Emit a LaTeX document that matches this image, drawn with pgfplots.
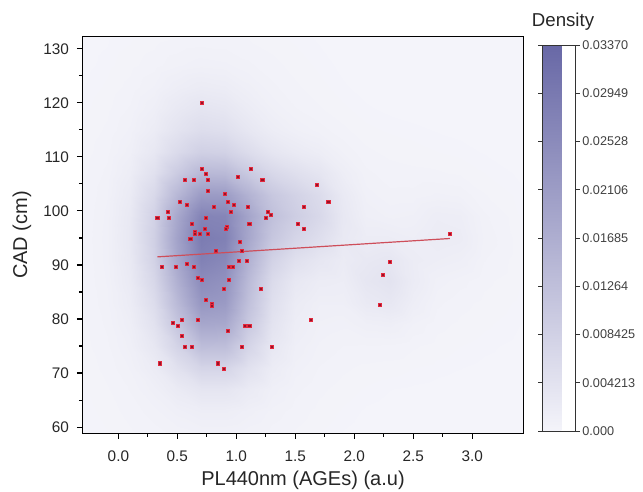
\documentclass[border=0pt]{standalone}
\usepackage{pgfplots}
\pgfplotsset{compat=1.18}
\usepackage{fontspec}
\setmainfont{Liberation Sans}
\definecolor{ptred}{RGB}{228,40,60}
\definecolor{ptdark}{RGB}{150,20,40}
\definecolor{fitred}{RGB}{206,78,90}
\begin{document}
\begin{tikzpicture}
\begin{axis}[
  name=main, at={(0,0)}, anchor=south west,
  width=330pt, height=297pt, scale only axis,
  xmin=-0.3, xmax=3.43, ymin=58.9, ymax=132.2,
  xtick={0,0.5,1,1.5,2,2.5,3}, minor x tick num=1,
  ytick={60,70,80,90,100,110,120,130}, minor y tick num=1,
  xtick pos=left, ytick pos=left, tick align=outside,
  major tick length=4.5pt, minor tick length=3pt,
  tick style={line width=0.8pt, black},
  axis line style={line width=1.1pt},
  /pgf/number format/assume math mode=true,
  ticklabel style={font=\fontsize{11.5}{13}\selectfont, text=black!85},
  xticklabel style={/pgf/number format/fixed, /pgf/number format/fixed zerofill, /pgf/number format/precision=1, yshift=-5.5pt},
  yticklabel style={xshift=-2.5pt},
  xlabel={PL440nm (AGEs) (a.u)}, ylabel={CAD (cm)},
  label style={font=\fontsize{15}{17}\selectfont, text=black!85},
  xlabel style={at={(axis description cs:0.5,-0.119)}, anchor=center},
  ylabel style={at={(axis description cs:-0.139,0.5)}, anchor=center, rotate=0},
  colormap={dens}{rgb255(0cm)=(244,244,250) rgb255(1cm)=(104,104,166)},
  point meta min=0, point meta max=33.7,
  colorbar,
  colorbar style={
    at={(parent axis.south east)}, anchor=south west, xshift=6pt, yshift=1.5pt,
    width=25pt, height=289.5pt,
    ytick={0,4.213,8.425,12.64,16.85,21.06,25.28,29.49,33.7},
    yticklabels={0.000,0.004213,0.008425,0.01264,0.01685,0.02106,0.02528,0.02949,0.03370},
    yticklabel style={font=\fontsize{9.5}{11}\selectfont, text=black!75, xshift=-1.5pt},
    tick align=outside, major tick length=3pt, tick style={line width=0.5pt, black!80},
    axis line style={line width=0.6pt, black!80},
    title={Density},
    title style={font=\fontsize{14}{16}\selectfont, text=black!85, at={(0.5,1)}, anchor=base, yshift=8pt, xshift=3pt},
  },
]
\addplot[surf, shader=interp, mesh/cols=19, point meta={1.12*\thisrow{z}}]
table[x=x, y=y, row sep=\\] {
x y z\\
-0.3 58.9 .09\\ -0.1 58.9 .17\\ 0.1 58.9 .29\\ 0.3 58.9 .44\\ 0.5 58.9 .61\\ 0.7 58.9 .75\\ 0.9 58.9 .75\\ 1.1 58.9 .61\\ 1.3 58.9 .44\\ 1.5 58.9 .30\\ 1.7 58.9 .18\\ 1.9 58.9 .10\\ 2.1 58.9 .05\\ 2.3 58.9 .03\\ 2.5 58.9 .02\\ 2.7 58.9 .01\\ 2.9 58.9 .01\\ 3.1 58.9 .01\\ 3.43 58.9 0\\
-0.3 63 .12\\ -0.1 63 .23\\ 0.1 63 .40\\ 0.3 63 .67\\ 0.5 63 1.07\\ 0.7 63 1.46\\ 0.9 63 1.46\\ 1.1 63 1.08\\ 1.3 63 .68\\ 1.5 63 .43\\ 1.7 63 .26\\ 1.9 63 .16\\ 2.1 63 .09\\ 2.3 63 .06\\ 2.5 63 .04\\ 2.7 63 .03\\ 2.9 63 .02\\ 3.1 63 .02\\ 3.43 63 .01\\
-0.3 67 .16\\ -0.1 67 .30\\ 0.1 67 .56\\ 0.3 67 1.08\\ 0.5 67 2.11\\ 0.7 67 3.22\\ 0.9 67 3.21\\ 1.1 67 2.11\\ 1.3 67 1.10\\ 1.5 67 .61\\ 1.7 67 .37\\ 1.9 67 .24\\ 2.1 67 .16\\ 2.3 67 .11\\ 2.5 67 .09\\ 2.7 67 .07\\ 2.9 67 .05\\ 3.1 67 .04\\ 3.43 67 .02\\
-0.3 71 .20\\ -0.1 71 .39\\ 0.1 71 .78\\ 0.3 71 1.79\\ 0.5 71 4.11\\ 0.7 71 6.73\\ 0.9 71 6.70\\ 1.1 71 4.06\\ 1.3 71 1.80\\ 1.5 71 .87\\ 1.7 71 .52\\ 1.9 71 .36\\ 2.1 71 .27\\ 2.3 71 .23\\ 2.5 71 .18\\ 2.7 71 .14\\ 2.9 71 .11\\ 3.1 71 .08\\ 3.43 71 .04\\
-0.3 75 .24\\ -0.1 75 .49\\ 0.1 75 1.06\\ 0.3 75 2.81\\ 0.5 75 7.01\\ 0.7 75 11.77\\ 0.9 75 11.63\\ 1.1 75 6.78\\ 1.3 75 2.75\\ 1.5 75 1.18\\ 1.7 75 .71\\ 1.9 75 .53\\ 2.1 75 .52\\ 2.3 75 .50\\ 2.5 75 .35\\ 2.7 75 .24\\ 2.9 75 .18\\ 3.1 75 .13\\ 3.43 75 .07\\
-0.3 79 .28\\ -0.1 79 .59\\ 0.1 79 1.39\\ 0.3 79 3.97\\ 0.5 79 10.02\\ 0.7 79 16.65\\ 0.9 79 16.27\\ 1.1 79 9.37\\ 1.3 79 3.69\\ 1.5 79 1.53\\ 1.7 79 .93\\ 1.9 79 .81\\ 2.1 79 1.15\\ 2.3 79 1.29\\ 2.5 79 .74\\ 2.7 79 .39\\ 2.9 79 .28\\ 3.1 79 .20\\ 3.43 79 .10\\
-0.3 83 .31\\ -0.1 83 .69\\ 0.1 83 1.76\\ 0.3 83 5.12\\ 0.5 83 12.49\\ 0.7 83 20.04\\ 0.9 83 19.25\\ 1.1 83 11.11\\ 1.3 83 4.47\\ 1.5 83 1.92\\ 1.7 83 1.21\\ 1.9 83 1.21\\ 2.1 83 2.27\\ 2.3 83 2.75\\ 2.5 83 1.40\\ 2.7 83 .59\\ 2.9 83 .39\\ 3.1 83 .27\\ 3.43 83 .14\\
-0.3 87 .33\\ -0.1 87 .78\\ 0.1 87 2.14\\ 0.3 87 6.28\\ 0.5 87 14.61\\ 0.7 87 22.40\\ 0.9 87 21.13\\ 1.1 87 12.48\\ 1.3 87 5.45\\ 1.5 87 2.65\\ 1.7 87 1.75\\ 1.9 87 1.61\\ 2.1 87 3.02\\ 2.3 87 3.68\\ 2.5 87 1.88\\ 2.7 87 .87\\ 2.9 87 .63\\ 3.1 87 .37\\ 3.43 87 .17\\
-0.3 91 .34\\ -0.1 91 .85\\ 0.1 91 2.47\\ 0.3 91 7.34\\ 0.5 91 16.57\\ 0.7 91 24.63\\ 0.9 91 23.19\\ 1.1 91 14.47\\ 1.3 91 7.27\\ 1.5 91 4.26\\ 1.7 91 2.93\\ 1.9 91 1.95\\ 2.1 91 2.56\\ 2.3 91 2.96\\ 2.5 91 1.78\\ 2.7 91 1.41\\ 2.9 91 1.19\\ 3.1 91 .55\\ 3.43 91 .18\\
-0.3 95 .34\\ -0.1 95 .87\\ 0.1 95 2.62\\ 0.3 95 7.86\\ 0.5 95 17.55\\ 0.7 95 25.87\\ 0.9 95 24.81\\ 1.1 95 16.74\\ 1.3 95 9.81\\ 1.5 95 6.70\\ 1.7 95 4.75\\ 1.9 95 2.38\\ 2.1 95 1.67\\ 2.3 95 1.66\\ 2.5 95 1.41\\ 2.7 95 1.90\\ 2.9 95 1.73\\ 3.1 95 .71\\ 3.43 95 .18\\
-0.3 99 .32\\ -0.1 99 .82\\ 0.1 99 2.48\\ 0.3 99 7.37\\ 0.5 99 16.37\\ 0.7 99 24.19\\ 0.9 99 23.77\\ 1.1 99 17.16\\ 1.3 99 11.19\\ 1.5 99 8.31\\ 1.7 99 5.98\\ 1.9 99 2.64\\ 2.1 99 1.16\\ 2.3 99 .91\\ 2.5 99 1.00\\ 2.7 99 1.56\\ 2.9 99 1.44\\ 3.1 99 .59\\ 3.43 99 .15\\
-0.3 103 .29\\ -0.1 103 .73\\ 0.1 103 2.07\\ 0.3 103 5.95\\ 0.5 103 13.01\\ 0.7 103 19.17\\ 0.9 103 19.06\\ 1.1 103 14.18\\ 1.3 103 9.62\\ 1.5 103 7.32\\ 1.7 103 5.28\\ 1.9 103 2.28\\ 2.1 103 .87\\ 2.3 103 .60\\ 2.5 103 .62\\ 2.7 103 .80\\ 2.9 103 .71\\ 3.1 103 .34\\ 3.43 103 .12\\
-0.3 107 .26\\ -0.1 107 .60\\ 0.1 107 1.56\\ 0.3 107 4.18\\ 0.5 107 8.84\\ 0.7 107 12.83\\ 0.9 107 12.61\\ 1.1 107 9.25\\ 1.3 107 6.15\\ 1.5 107 4.57\\ 1.7 107 3.26\\ 1.9 107 1.46\\ 2.1 107 .60\\ 2.3 107 .41\\ 2.5 107 .37\\ 2.7 107 .35\\ 2.9 107 .29\\ 3.1 107 .18\\ 3.43 107 .08\\
-0.3 111 .22\\ -0.1 111 .47\\ 0.1 111 1.11\\ 0.3 111 2.71\\ 0.5 111 5.50\\ 0.7 111 7.76\\ 0.9 111 7.39\\ 1.1 111 5.13\\ 1.3 111 3.17\\ 1.5 111 2.19\\ 1.7 111 1.52\\ 1.9 111 .75\\ 2.1 111 .37\\ 2.3 111 .27\\ 2.5 111 .23\\ 2.7 111 .18\\ 2.9 111 .14\\ 3.1 111 .10\\ 3.43 111 .05\\
-0.3 115 .18\\ -0.1 115 .36\\ 0.1 115 .80\\ 0.3 115 1.81\\ 0.5 115 3.57\\ 0.7 115 4.92\\ 0.9 115 4.46\\ 1.1 115 2.87\\ 1.3 115 1.62\\ 1.5 115 1.00\\ 1.7 115 .66\\ 1.9 115 .37\\ 2.1 115 .21\\ 2.3 115 .16\\ 2.5 115 .13\\ 2.7 115 .10\\ 2.9 115 .08\\ 3.1 115 .06\\ 3.43 115 .03\\
-0.3 119 .14\\ -0.1 119 .27\\ 0.1 119 .57\\ 0.3 119 1.25\\ 0.5 119 2.43\\ 0.7 119 3.29\\ 0.9 119 2.88\\ 1.1 119 1.76\\ 1.3 119 .95\\ 1.5 119 .55\\ 1.7 119 .34\\ 1.9 119 .20\\ 2.1 119 .12\\ 2.3 119 .08\\ 2.5 119 .06\\ 2.7 119 .04\\ 2.9 119 .03\\ 3.1 119 .03\\ 3.43 119 .01\\
-0.3 123 .10\\ -0.1 123 .20\\ 0.1 123 .39\\ 0.3 123 .78\\ 0.5 123 1.43\\ 0.7 123 1.89\\ 0.9 123 1.65\\ 1.1 123 1.05\\ 1.3 123 .60\\ 1.5 123 .36\\ 1.7 123 .22\\ 1.9 123 .12\\ 2.1 123 .07\\ 2.3 123 .04\\ 2.5 123 .03\\ 2.7 123 .02\\ 2.9 123 .02\\ 3.1 123 .01\\ 3.43 123 .01\\
-0.3 127 .07\\ -0.1 127 .14\\ 0.1 127 .26\\ 0.3 127 .44\\ 0.5 127 .71\\ 0.7 127 .89\\ 0.9 127 .81\\ 1.1 127 .59\\ 1.3 127 .39\\ 1.5 127 .25\\ 1.7 127 .15\\ 1.9 127 .08\\ 2.1 127 .04\\ 2.3 127 .02\\ 2.5 127 .01\\ 2.7 127 .01\\ 2.9 127 .01\\ 3.1 127 0\\ 3.43 127 0\\
-0.3 132.2 .05\\ -0.1 132.2 .09\\ 0.1 132.2 .15\\ 0.3 132.2 .23\\ 0.5 132.2 .31\\ 0.7 132.2 .36\\ 0.9 132.2 .35\\ 1.1 132.2 .30\\ 1.3 132.2 .22\\ 1.5 132.2 .15\\ 1.7 132.2 .09\\ 1.9 132.2 .05\\ 2.1 132.2 .02\\ 2.3 132.2 .01\\ 2.5 132.2 0\\ 2.7 132.2 0\\ 2.9 132.2 0\\ 3.1 132.2 0\\ 3.43 132.2 0\\
};
\addplot[fitred, line width=0.9pt, no markers] coordinates {(0.33,91.5) (2.81,94.9)};
\addplot[only marks, mark=square*, mark size=1.15pt, mark options={draw=ptred, fill=ptdark, line width=0.5pt}] coordinates {
(0.71,120) (0.71,107.8) (1.12,107.8) (0.74,106.8) (1.01,106.3) (0.56,105.7) (0.64,105.7) (0.76,105.7) (1.22,105.7) (1.68,104.8)
(0.76,103.7) (0.90,103.2) (0.52,101.7) (0.58,101.2) (0.93,101.7) (0.98,101.2) (1.78,101.7) (0.81,100.7) (1.10,100.7) (1.57,100.7)
(0.42,99.8) (0.95,99.8) (1.27,99.8) (1.29,99.3) (0.33,98.8) (0.43,98.8) (0.74,98.8) (1.25,98.8) (0.62,97.7) (1.11,97.7)
(1.52,97.7) (0.92,97.1) (0.73,96.7) (0.91,96.7) (1.57,96.7) (0.65,96.2) (0.65,95.8) (0.69,95.7) (0.76,95.7) (2.81,95.7)
(0.61,94.8) (1.03,94.2) (0.83,92.6) (1.05,92.6) (1.02,90.7) (1.09,90.7) (2.30,90.6) (0.58,90.2) (0.37,89.7) (0.49,89.7)
(0.64,89.7) (0.94,89.7) (0.97,89.7) (2.24,88.1) (0.67,87.6) (0.94,87.3) (0.71,87.2) (0.89,85.6) (1.21,85.6) (0.74,83.6)
(0.79,82.8) (0.79,82.4) (2.22,82.6) (0.54,79.8) (0.67,79.8) (1.63,79.8) (0.46,79.3) (0.50,78.8) (1.07,78.8) (1.11,78.8)
(0.93,77.8) (0.54,76.8) (0.56,74.8) (0.62,74.8) (1.05,74.8) (1.30,74.8) (0.35,71.8) (0.84,71.8) (0.89,70.7)
};
\end{axis}
\pgfresetboundingbox
\path[use as bounding box] (-62.25pt,-44.25pt) rectangle (420pt,324.75pt);
\end{tikzpicture}
\end{document}
